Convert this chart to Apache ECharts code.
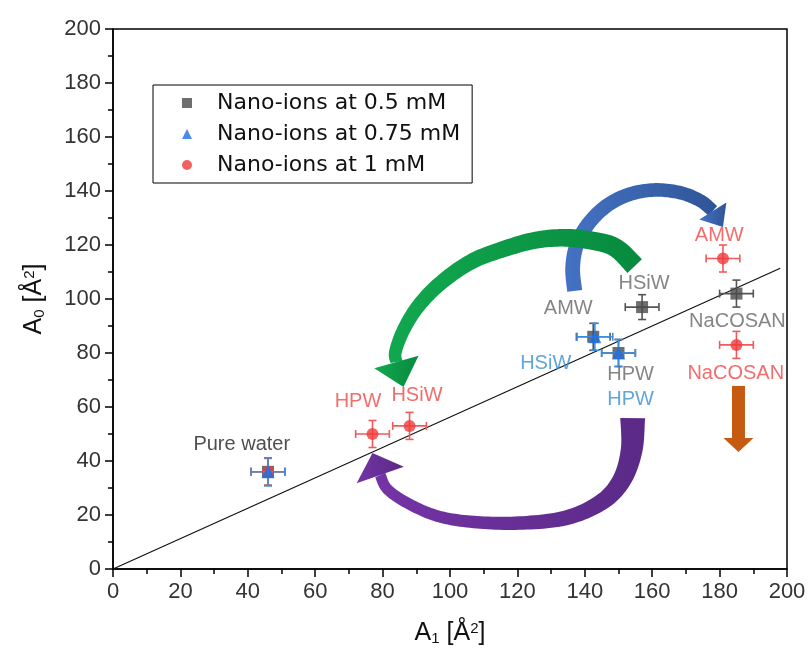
<!DOCTYPE html>
<html><head><meta charset="utf-8">
<script src="https://cdn.jsdelivr.net/npm/echarts@6/dist/echarts.min.js"></script>
<style>html,body{margin:0;padding:0;background:#fff}#c{width:809px;height:659px}</style>
</head><body><div id="c"></div>
<script>
// ---------- data ----------
const seriesNames = ['Nano-ions at 0.5 mM', 'Nano-ions at 0.75 mM', 'Nano-ions at 1 mM'];

const blackX = [46, 142.5, 150, 157, 185];
const blackY = [36, 86, 80, 97, 102];
const blackXErr = [5, 5, 5, 5, 5];
const blackYErr = [5, 5, 5, 4.6, 5];

const blueX = [46, 143, 150];
const blueY = [36, 86, 80];
const blueXErr = [5, 5.3, 5];
const blueYErr = [5.2, 5, 5];

const redX = [46, 77, 88, 181, 185];
const redY = [36, 50, 53, 115, 83];
const redXErr = [5, 5, 5, 5, 5];
const redYErr = [5, 5, 5, 5, 5];

const fitX = [0, 198];
const fitY = [0, 111.4];

const darkLabels = ['Pure water'];
const darkLabelX = [38.2];
const darkLabelY = [46.1];

const greyLabels = ['AMW', 'HSiW', 'NaCOSAN', 'HPW'];
const greyLabelX = [135.1, 157.6, 185.3, 153.6];
const greyLabelY = [96.5, 105.6, 91.6, 71.9];

const blueLabels = ['HSiW', 'HPW'];
const blueLabelX = [128.4, 153.6];
const blueLabelY = [76.1, 62.8];

const redLabels = ['AMW', 'NaCOSAN', 'HPW', 'HSiW'];
const redLabelX = [179.9, 184.8, 72.7, 90.2];
const redLabelY = [123.7, 72.5, 62.2, 64.2];

// arrow centre-lines in data units (A1, A0) and their tips
const arrowBluePath = [[137.0,103.0],[136.4,111.5],[137.6,120.0],[141.2,128.1],[146.8,134.8],[153.6,138.9],[161.1,140.4],[168.5,139.3],[174.4,136.3],[178.0,132.6]];
const arrowBlueTip = [181.0, 126.7];
const arrowGreenPath = [[154.8,112.2],[150.1,118.1],[145.6,120.7],[135.8,122.6],[126.0,121.9],[115.9,118.5],[106.1,113.7],[97.2,105.9],[90.6,97.4],[86.2,88.5],[83.8,80.4],[84.1,76.7]];
const arrowGreenTip = [86.2, 67.4];
const arrowPurplePath = [[154.2,55.9],[153.9,44.1],[151.0,33.0],[145.0,24.8],[134.3,18.9],[120.4,17.0],[107.0,17.4],[96.3,19.6],[87.4,24.4],[81.4,29.6],[79.3,34.8]];
const arrowPurpleTip = [77.0, 43.0];
const arrowOrangePath = [[185.6,67.8],[185.6,48.5]];
const arrowOrangeTip = [185.6, 43.3];

// ---------- styles ----------
const arrows = [
  {path: arrowBluePath, tip: arrowBlueTip, w0: 15, w1: 13, hw: 16, pow: 1, color: ['#2f5597', '#4472c4']},
  {path: arrowGreenPath, tip: arrowGreenTip, w0: 20, w1: 12, hw: 23, pow: 1, color: ['#078a3e', '#12a84f']},
  {path: arrowPurplePath, tip: arrowPurpleTip, w0: 25, w1: 11, hw: 25, pow: 2.5, color: ['#5a2a86', '#7434a6']},
  {path: arrowOrangePath, tip: arrowOrangeTip, w0: 13, w1: 13, hw: 15, pow: 1, color: ['#c55a11', '#c55a11']}
];

function smooth(pts, n) {
  if (pts.length < 3) {
    const out = [];
    for (let k = 0; k <= n; k++) {
      const t = k / n;
      out.push([pts[0][0] + (pts[1][0] - pts[0][0]) * t, pts[0][1] + (pts[1][1] - pts[0][1]) * t]);
    }
    return out;
  }
  const out = [];
  for (let i = 0; i < pts.length - 1; i++) {
    const p0 = pts[Math.max(i - 1, 0)], p1 = pts[i], p2 = pts[i + 1], p3 = pts[Math.min(i + 2, pts.length - 1)];
    for (let k = 0; k < n; k++) {
      const t = k / n, t2 = t * t, t3 = t2 * t;
      const f = d => 0.5 * ((2 * p1[d]) + (-p0[d] + p2[d]) * t + (2 * p0[d] - 5 * p1[d] + 4 * p2[d] - p3[d]) * t2 + (-p0[d] + 3 * p1[d] - 3 * p2[d] + p3[d]) * t3);
      out.push([f(0), f(1)]);
    }
  }
  out.push(pts[pts.length - 1]);
  return out;
}

function renderArrow(params, api) {
  const a = arrows[params.dataIndex];
  const px = a.path.map(p => api.coord(p));
  const tip = api.coord(a.tip);
  const pts = smooth(px, 12);
  const N = pts.length;
  const left = [], right = [];
  for (let i = 0; i < N; i++) {
    const pa = pts[Math.max(i - 1, 0)], pb = pts[Math.min(i + 1, N - 1)];
    let tx = pb[0] - pa[0], ty = pb[1] - pa[1];
    const L = Math.hypot(tx, ty) || 1; tx /= L; ty /= L;
    const s = i / (N - 1);
    const w = a.w1 + (a.w0 - a.w1) * Math.pow(1 - s, a.pow);
    left.push([pts[i][0] - ty * w / 2, pts[i][1] + tx * w / 2]);
    right.push([pts[i][0] + ty * w / 2, pts[i][1] - tx * w / 2]);
  }
  const body = left.concat(right.reverse());
  const B = pts[N - 1];
  let dx = tip[0] - B[0], dy = tip[1] - B[1];
  const L = Math.hypot(dx, dy) || 1; dx /= L; dy /= L;
  const head = [[B[0] - dy * a.hw, B[1] + dx * a.hw], tip, [B[0] + dy * a.hw, B[1] - dx * a.hw]];
  const grad = new echarts.graphic.LinearGradient(0, 0, 1, 0, [
    {offset: 0, color: a.color[1]}, {offset: 1, color: a.color[0]}
  ]);
  return {
    type: 'group',
    children: [
      {type: 'polygon', shape: {points: body}, style: {fill: grad}},
      {type: 'polygon', shape: {points: head}, style: {fill: grad}}
    ]
  };
}

function errData(xs, ys, xe, ye) {
  return xs.map((x, i) => [x, ys[i], xe[i], ye[i]]);
}

function errSeries(xs, ys, xe, ye, color) {
  return {
    type: 'custom',
    data: errData(xs, ys, xe, ye),
    silent: true,
    renderItem: function (params, api) {
      const x = api.value(0), y = api.value(1), ex = api.value(2), ey = api.value(3);
      const l = api.coord([x - ex, y]), r = api.coord([x + ex, y]);
      const t = api.coord([x, y + ey]), b = api.coord([x, y - ey]);
      const c = 4;
      const st = {stroke: color, lineWidth: 1.6, fill: null};
      return {
        type: 'group',
        children: [
          {type: 'line', shape: {x1: l[0], y1: l[1], x2: r[0], y2: r[1]}, style: st},
          {type: 'line', shape: {x1: l[0], y1: l[1] - c, x2: l[0], y2: l[1] + c}, style: st},
          {type: 'line', shape: {x1: r[0], y1: r[1] - c, x2: r[0], y2: r[1] + c}, style: st},
          {type: 'line', shape: {x1: t[0], y1: t[1], x2: b[0], y2: b[1]}, style: st},
          {type: 'line', shape: {x1: t[0] - c, y1: t[1], x2: t[0] + c, y2: t[1]}, style: st},
          {type: 'line', shape: {x1: b[0] - c, y1: b[1], x2: b[0] + c, y2: b[1]}, style: st}
        ]
      };
    }
  };
}

function labelSeries(names, xs, ys, color) {
  return {
    type: 'scatter',
    symbolSize: 0,
    silent: true,
    data: names.map((n, i) => ({name: n, value: [xs[i], ys[i]]})),
    label: {
      show: true, position: 'inside', formatter: p => p.name,
      fontFamily: 'Liberation Sans, Arial, sans-serif', fontSize: 20, color: color
    },
    z: 6
  };
}

const axisFont = 'Liberation Sans, Arial, sans-serif';
const nameRich = {
  a: {fontSize: 25, fontFamily: axisFont, color: '#111'},
  s: {fontSize: 15, fontFamily: axisFont, color: '#111', verticalAlign: 'bottom', padding: [10, 0, 0, 0]},
  p: {fontSize: 15, fontFamily: axisFont, color: '#111', verticalAlign: 'top', padding: [0, 0, 10, 0]}
};

function axisCommon() {
  return {
    type: 'value', min: 0, max: 200, interval: 20,
    axisLine: {show: true, onZero: false, lineStyle: {color: '#000', width: 1.5}},
    axisTick: {show: true, inside: false, length: 8, lineStyle: {color: '#000', width: 1.5}},
    minorTick: {show: true, splitNumber: 2, length: 5, lineStyle: {color: '#000', width: 1.5}},
    splitLine: {show: false},
    minorSplitLine: {show: false},
    axisLabel: {fontFamily: axisFont, fontSize: 22, color: '#333', margin: 12, showMinLabel: true, showMaxLabel: true, hideOverlap: false},
    nameLocation: 'middle',
    nameTextStyle: {rich: nameRich}
  };
}

const chart = echarts.init(document.getElementById('c'), null, {renderer: 'canvas'});
chart.setOption({
  backgroundColor: '#fff',
  animation: false,
  grid: {left: 113, right: 22, top: 29, bottom: 90, show: true, borderColor: '#000', borderWidth: 1.5, containLabel: false, outerBoundsMode: 'none'},
  xAxis: Object.assign(axisCommon(), {name: '{a|A}{s|1}{a| [Å}{p|2}{a|]}', nameGap: 52}),
  yAxis: Object.assign(axisCommon(), {name: '{a|A}{s|0}{a| [Å}{p|2}{a|]}', nameGap: 66, nameRotate: 90}),
  legend: {
    orient: 'vertical', left: 153, top: 85,
    data: [
      {name: seriesNames[0], icon: 'rect'},
      {name: seriesNames[1], icon: 'triangle'},
      {name: seriesNames[2], icon: 'circle'}
    ],
    itemWidth: 10, itemHeight: 10, itemGap: 9,
    borderColor: '#000', borderWidth: 1, borderRadius: 0,
    padding: [7, 12, 7, 29],
    backgroundColor: '#fff',
    selectedMode: false,
    textStyle: {fontFamily: 'DejaVu Sans, sans-serif', fontSize: 22, color: '#111', padding: [0, 0, 0, 20]}
  },
  series: [
    {type: 'custom', data: arrows.map((a, i) => [i, 0]), renderItem: renderArrow, silent: true, z: 1},
    {type: 'line', data: fitX.map((x, i) => [x, fitY[i]]), symbol: 'none', silent: true,
      lineStyle: {color: '#111', width: 1.2, type: 'solid'}, z: 2},
    Object.assign(errSeries(blackX, blackY, blackXErr, blackYErr, '#555'), {z: 3}),
    {type: 'scatter', name: seriesNames[0], symbol: 'rect', symbolSize: 12,
      itemStyle: {color: '#4a4a4a'}, data: blackX.map((x, i) => [x, blackY[i]]), z: 3},
    Object.assign(errSeries(redX, redY, redXErr, redYErr, '#f05a5a'), {z: 4}),
    {type: 'scatter', name: seriesNames[2], symbol: 'circle', symbolSize: 12,
      itemStyle: {color: '#ef3b3b'}, data: redX.map((x, i) => [x, redY[i]]), z: 4},
    Object.assign(errSeries(blueX, blueY, blueXErr, blueYErr, '#3a8de0'), {z: 5}),
    {type: 'scatter', name: seriesNames[1], symbol: 'triangle', symbolSize: 13,
      itemStyle: {color: '#1f6fe0'}, data: blueX.map((x, i) => [x, blueY[i]]), z: 5},
    labelSeries(darkLabels, darkLabelX, darkLabelY, '#222'),
    labelSeries(greyLabels, greyLabelX, greyLabelY, '#666'),
    labelSeries(blueLabels, blueLabelX, blueLabelY, '#3a8fd0'),
    labelSeries(redLabels, redLabelX, redLabelY, '#f04848')
  ]
});
</script>
</body></html>
